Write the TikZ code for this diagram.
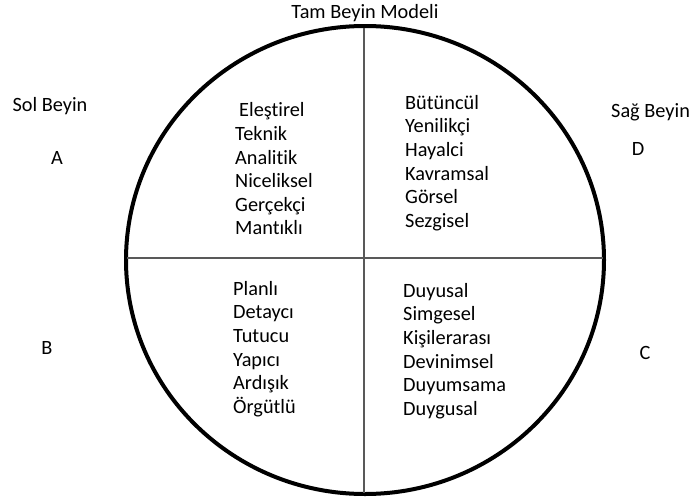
\documentclass[tikz,border=0pt]{standalone}
\usepackage{fontspec}
\setmainfont{Carlito}[Ligatures=NoCommon]
\usetikzlibrary{shapes.geometric}
\begin{document}
\begin{tikzpicture}[x=1pt,y=-1pt,
  lbl/.style={font=\fontsize{20.3}{23.6}\selectfont, inner sep=0pt},
  quad/.style={lbl, align=left, anchor=west},
  divider/.style={draw=black!65, line width=1.2pt}]
\useasboundingbox (0,0) rectangle (689,501);
\node[draw, line width=4pt, ellipse, minimum width=478pt, minimum height=468pt, inner sep=0pt] (circ) at (365,260) {};
\coordinate (top) at (364,28);
\coordinate (bot) at (364,493);
\coordinate (lft) at (127,258);
\coordinate (rgt) at (603,258);
\draw[divider] (top) -- (bot);
\draw[divider] (lft) -- (rgt);
\node[lbl] (title) at (365,13) {Tam Beyin Modeli};
\node[lbl] (sol) at (50,106) {Sol Beyin};
\node[lbl] (a) at (57,158) {A};
\node[lbl, anchor=west] (sag) at (611,112) {Sağ Beyin};
\node[lbl] (d) at (638,149) {D};
\node[lbl] (b) at (47,348) {B};
\node[lbl] (c) at (645,353) {C};
\node[quad] (qa) at (235,169) {\hspace*{4pt}Eleştirel\\Teknik\\Analitik\\Niceliksel\\Gerçekçi\\Mantıklı};
\node[quad] (qd) at (405,163) {Bütüncül\\Yenilikçi\\Hayalci\\Kavramsal\\Görsel\\Sezgisel};
\node[quad] (qb) at (233,349) {Planlı\\Detaycı\\Tutucu\\Yapıcı\\Ardışık\\Örgütlü};
\node[quad] (qc) at (403,351) {Duyusal\\Simgesel\\Kişilerarası\\Devinimsel\\Duyumsama\\Duygusal};
\end{tikzpicture}
\end{document}
